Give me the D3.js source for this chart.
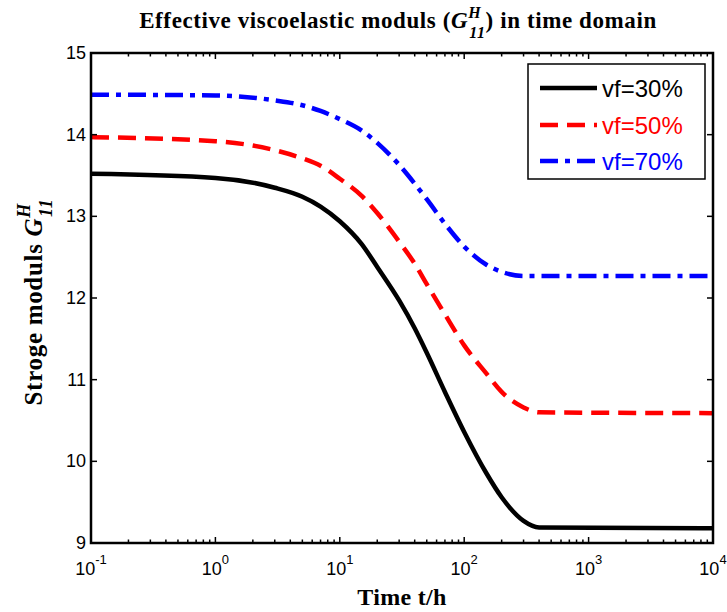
<!DOCTYPE html>
<html><head><meta charset="utf-8">
<script src="https://cdn.jsdelivr.net/npm/d3@7"></script>
<style>body{margin:0;background:#fff}svg{display:block}</style>
</head><body>
<script>
const times = [0.1, 1, 3, 5, 7, 10, 15, 20, 30, 40, 50, 70, 100, 150, 200, 300, 400, 10000];
const vf30 = [13.52, 13.47, 13.35, 13.24, 13.12, 12.94, 12.66, 12.38, 11.97, 11.63, 11.33, 10.85, 10.36, 9.86, 9.56, 9.27, 9.19, 9.18];
const vf50 = [13.97, 13.92, 13.81, 13.71, 13.62, 13.46, 13.25, 13.04, 12.69, 12.42, 12.17, 11.80, 11.42, 11.08, 10.85, 10.66, 10.60, 10.59];
const vf70 = [14.49, 14.48, 14.42, 14.36, 14.29, 14.19, 14.05, 13.90, 13.63, 13.40, 13.21, 12.91, 12.63, 12.41, 12.32, 12.27, 12.27, 12.27];
const seriesNames = ["vf=30%", "vf=50%", "vf=70%"];
const xTickExps = [-1, 0, 1, 2, 3, 4];
const yTicks = [9, 10, 11, 12, 13, 14, 15];

const W = 727, H = 612;
const L = 91, R = 713, T = 53, B = 543;
const svg = d3.select("body").append("svg").attr("width", W).attr("height", H);
const x = d3.scaleLog().domain([0.1, 10000]).range([L, R]);
const y = d3.scaleLinear().domain([9, 15]).range([B, T]);

const series = [
  {name: seriesNames[0], vals: vf30, color: "#000000", dash: null},
  {name: seriesNames[1], vals: vf50, color: "#ff0000", dash: "18,9"},
  {name: seriesNames[2], vals: vf70, color: "#0000ff", dash: "18,7,5,7"}
];

const line = d3.line().x(d => x(d[0])).y(d => y(d[1])).curve(d3.curveMonotoneX);
const plot = svg.append("g");
plot.append("defs").append("clipPath").attr("id","clip").append("rect")
  .attr("x", L).attr("y", T).attr("width", R-L).attr("height", B-T);
series.forEach(s => {
  plot.append("path")
    .datum(times.map((t,i) => [t, s.vals[i]]))
    .attr("d", line).attr("fill","none").attr("stroke", s.color)
    .attr("stroke-width", 4.5).attr("stroke-dasharray", s.dash)
    .attr("clip-path","url(#clip)");
});

// axes (box, inward ticks)
const minorTicks = [];
for (let e = -1; e < 4; e++) for (let m = 2; m <= 9; m++) minorTicks.push(m * Math.pow(10, e));
const majorX = xTickExps.map(e => Math.pow(10, e));
const ax = svg.append("g").attr("stroke","#000");
majorX.forEach(v => {
  ax.append("line").attr("x1", x(v)).attr("x2", x(v)).attr("y1", B).attr("y2", B-6).attr("stroke-width",1.5);
  ax.append("line").attr("x1", x(v)).attr("x2", x(v)).attr("y1", T).attr("y2", T+6).attr("stroke-width",1.5);
});
minorTicks.forEach(v => {
  ax.append("line").attr("x1", x(v)).attr("x2", x(v)).attr("y1", B).attr("y2", B-3.5).attr("stroke-width",1.5);
  ax.append("line").attr("x1", x(v)).attr("x2", x(v)).attr("y1", T).attr("y2", T+3.5).attr("stroke-width",1.5);
});
yTicks.forEach(v => {
  ax.append("line").attr("x1", L).attr("x2", L+6).attr("y1", y(v)).attr("y2", y(v)).attr("stroke-width",1.5);
  ax.append("line").attr("x1", R).attr("x2", R-6).attr("y1", y(v)).attr("y2", y(v)).attr("stroke-width",1.5);
});
ax.append("rect").attr("x", L).attr("y", T).attr("width", R-L).attr("height", B-T)
  .attr("fill","none").attr("stroke-width", 2.5);

// tick labels
const sans = "'Liberation Sans', Arial, sans-serif";
yTicks.forEach(v => {
  svg.append("text").attr("x", L-5).attr("y", y(v)+6).attr("text-anchor","end")
    .attr("font-family", sans).attr("font-size", 18).text(v);
});
xTickExps.forEach(e => {
  const t = svg.append("text").attr("x", x(Math.pow(10,e))).attr("y", 575).attr("text-anchor","middle")
    .attr("font-family", sans).attr("font-size", 18);
  t.append("tspan").text("10");
  t.append("tspan").attr("dy", -11).attr("font-size", 13).text(e);
});

// title
const serif = "'Liberation Serif', 'Times New Roman', serif";
const title = svg.append("text").attr("x", 398).attr("y", 28).attr("text-anchor","middle")
  .attr("font-family", serif).attr("font-weight","bold").attr("font-size", 23).attr("letter-spacing", 0.6);
title.append("tspan").text("Effective viscoelastic moduls (");
title.append("tspan").attr("font-style","italic").text("G");
title.append("tspan").attr("font-style","italic").attr("font-size",16).attr("dy",-10).text("H");
title.append("tspan").attr("font-style","italic").attr("font-size",16).attr("dx",-12).attr("dy",20).text("11");
title.append("tspan").attr("dy",-10).text(") in time domain");

// x label
svg.append("text").attr("x", 402).attr("y", 605).attr("text-anchor","middle")
  .attr("font-family", serif).attr("font-weight","bold").attr("font-size", 24).attr("letter-spacing", 0.3).text("Time t/h");

// y label
const yl = svg.append("text").attr("transform","translate(42,302) rotate(-90)").attr("text-anchor","middle")
  .attr("font-family", serif).attr("font-weight","bold").attr("font-size", 25).attr("letter-spacing", 0.7);
yl.append("tspan").text("Stroge moduls ");
yl.append("tspan").attr("font-style","italic").text("G");
yl.append("tspan").attr("font-style","italic").attr("font-size",18).attr("dy",-12).text("H");
yl.append("tspan").attr("font-style","italic").attr("font-size",18).attr("dx",-14).attr("dy",22).text("11");

// legend
const lg = svg.append("g");
lg.append("rect").attr("x", 528).attr("y", 64).attr("width", 177).attr("height", 115)
  .attr("fill","#fff").attr("stroke","#000").attr("stroke-width",1.5);
const rows = [88, 125, 161];
series.forEach((s,i) => {
  lg.append("line").attr("x1", 540).attr("x2", 597).attr("y1", rows[i]).attr("y2", rows[i])
    .attr("stroke", s.color).attr("stroke-width", 4.5).attr("stroke-dasharray", s.dash);
  lg.append("text").attr("x", 602).attr("y", rows[i]+9).attr("font-family", sans).attr("font-size", 24)
    .attr("fill", s.color).text(s.name);
});
</script>
</body></html>
